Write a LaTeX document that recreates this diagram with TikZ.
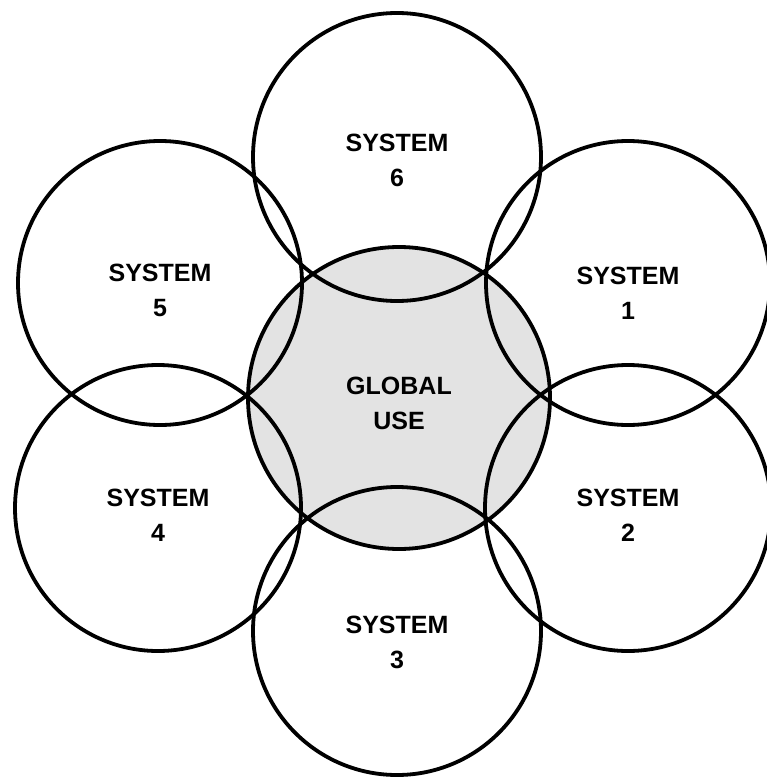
\documentclass[tikz,border=0pt]{standalone}
\usepackage{fontspec}
\setmainfont{Liberation Sans}
\begin{document}
\begin{tikzpicture}[x=1pt, y=-1pt, line width=3.8pt,
  lbl/.style={align=center, yshift=-7pt, font=\bfseries\fontsize{25}{35}\selectfont}]
  \useasboundingbox (0,0) rectangle (766,778);

  \coordinate (G) at (399,398);
  \coordinate (S1) at (628,283);
  \coordinate (S2) at (628,508);
  \coordinate (S3) at (397,631);
  \coordinate (S4) at (158,508);
  \coordinate (S5) at (160,283);
  \coordinate (S6) at (397,157);

  % shaded common area
  \fill[black!11] (G) circle (151);

  \draw (G) circle (151);
  \draw (S1) circle (142);
  \draw (S2) circle (143);
  \draw (S3) circle (144);
  \draw (S4) circle (143);
  \draw (S5) circle (142);
  \draw (S6) circle (144);

  \node[lbl, yshift=2pt] (g) at (G) {GLOBAL\\USE};
  \node[lbl, yshift=-3pt] (s1) at (S1) {SYSTEM\\1};
  \node[lbl] (s2) at (S2) {SYSTEM\\2};
  \node[lbl, yshift=-4pt] (s3) at (S3) {SYSTEM\\3};
  \node[lbl] (s4) at (S4) {SYSTEM\\4};
  \node[lbl] (s5) at (S5) {SYSTEM\\5};
  \node[lbl, yshift=4pt] (s6) at (S6) {SYSTEM\\6};
\end{tikzpicture}
\end{document}
